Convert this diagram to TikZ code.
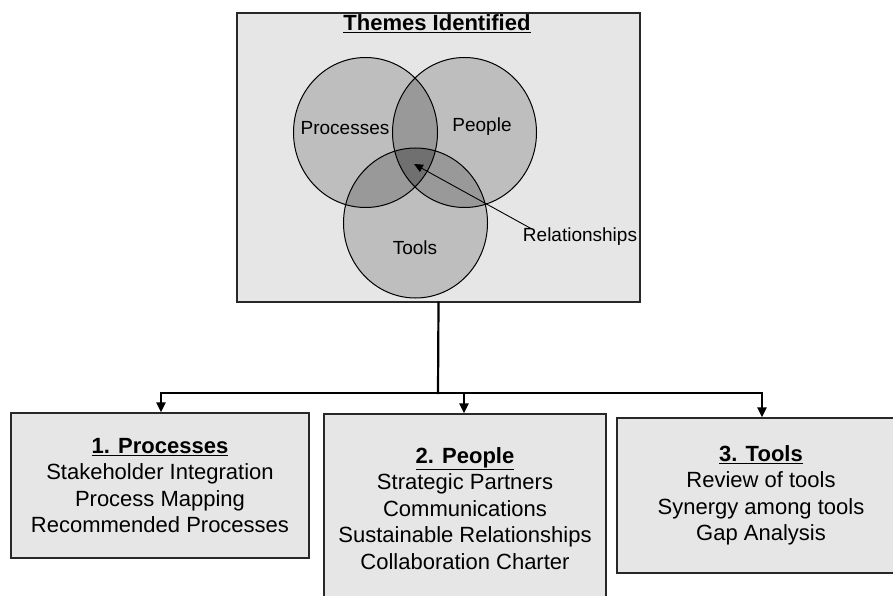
\documentclass[tikz,border=0pt]{standalone}
\usepackage{fontspec}
\setmainfont{Liberation Sans}
\usetikzlibrary{arrows.meta}
\definecolor{boxfill}{RGB}{230,230,230}
\definecolor{vone}{RGB}{190,190,190}
\definecolor{vtwo}{RGB}{153,153,153}
\definecolor{vthree}{RGB}{112,112,112}
\definecolor{edge}{RGB}{40,40,40}
\begin{document}
\begin{tikzpicture}[x=1pt,y=-1pt,
  panel/.style={draw=edge, line width=1.3pt, fill=boxfill, inner sep=0pt, align=center,
    font=\fontsize{22}{26.5}\selectfont},
  conn/.style={line width=2.2pt, line cap=rect},
  tip/.style={-{Triangle[length=10pt,width=9pt]}},
  vlabel/.style={inner sep=0pt, font=\fontsize{19}{22}\selectfont},
  ring/.style={draw=black, line width=1pt}]
\useasboundingbox (0,0) rectangle (893,596);
\clip (0,0) rectangle (893,596);

% top panel
\node[panel, minimum width=403pt, minimum height=289pt] (top) at (438.5,157.5) {};
\node[anchor=base, inner sep=0pt, font=\bfseries\fontsize{22}{26}\selectfont] (title) at (437,31) {\underline{Themes Identified}};

% Venn
\def\pc{(365.5,132.5) ellipse [x radius=72pt, y radius=75pt]}
\def\qc{(464.5,132.5) ellipse [x radius=72pt, y radius=75pt]}
\def\tc{(415.5,223) ellipse [x radius=72pt, y radius=75pt]}
\fill[vone] \pc; \fill[vone] \qc; \fill[vone] \tc;
\begin{scope}\clip \pc; \fill[vtwo] \qc; \fill[vtwo] \tc;\end{scope}
\begin{scope}\clip \qc; \fill[vtwo] \tc;\end{scope}
\begin{scope}\clip \pc; \clip \qc; \fill[vthree] \tc;\end{scope}
\draw[ring] \pc; \draw[ring] \qc; \draw[ring] \tc;

\node[vlabel] (lproc) at (345,128) {Processes};
\node[vlabel] (lpeop) at (482,127) {People};
\node[vlabel] (ltool) at (415,248) {Tools};
\node[vlabel] (lrel) at (580,237) {Relationships};
\coordinate (center) at (414,164);
\draw[line width=0.9pt, -{Triangle[length=9pt,width=8pt]}] ([xshift=9pt,yshift=-1pt]lrel.north west) -- (center);

% bottom panels
\node[panel, minimum width=298pt, minimum height=145pt] (b1) at (160,485.5)
  {\underline{\textbf{1. Processes}}\\Stakeholder Integration\\Process Mapping\\Recommended Processes};
\node[panel, minimum width=282pt, minimum height=189pt] (b2) at (465,508.5)
  {\underline{\textbf{2. People}}\\Strategic Partners\\Communications\\Sustainable Relationships\\Collaboration Charter};
\node[panel, minimum width=288pt, minimum height=155pt] (b3) at (761,495.5)
  {\underline{\textbf{3. Tools}}\\Review of tools\\Synergy among tools\\Gap Analysis};

% connectors
\coordinate (hub) at (438,393);
\coordinate (hl) at (161,393);
\coordinate (hm) at (464,393);
\coordinate (hr) at (762,393);
\draw[conn] (top.south) -- (hub);
\draw[conn] (hl) -- (hr);
\draw[conn, tip] (hl) -- (hl |- b1.north);
\draw[conn, tip] (hm) -- (hm |- b2.north);
\draw[conn, tip] (hr) -- (hr |- b3.north);
\end{tikzpicture}
\end{document}
